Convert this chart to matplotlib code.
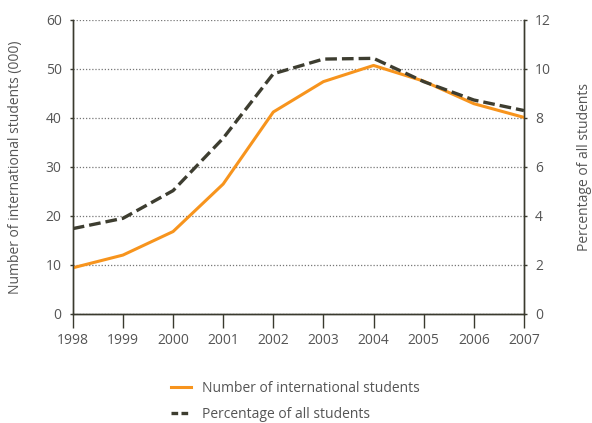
import matplotlib
matplotlib.use("Agg")
import matplotlib.pyplot as plt
from matplotlib.lines import Line2D

years = [1998, 1999, 2000, 2001, 2002, 2003, 2004, 2005, 2006, 2007]
students_000 = [9.4, 12.0, 16.8, 26.5, 41.2, 47.4, 50.7, 47.5, 42.9, 40.1]
pct_all = [3.48, 3.9, 5.03, 7.17, 9.8, 10.4, 10.43, 9.48, 8.73, 8.3]
left_ticks = [0, 10, 20, 30, 40, 50, 60]
right_ticks = [0, 2, 4, 6, 8, 10, 12]

plt.rcParams['font.family'] = ['Open Sans', 'DejaVu Sans']
txt = '#555555'
spine = '#3a3a2e'
orange = '#f7941d'
dark = '#3d3d30'

fig = plt.figure(figsize=(5.92, 4.23), dpi=100)
ax = fig.add_axes([0.123, 0.258, 0.762, 0.695])
ax2 = ax.twinx()

ax.plot(years, students_000, color=orange, lw=2.2, zorder=3)
ax2.plot(years, pct_all, color=dark, lw=2.4, ls=(0, (3.5, 1.5)), zorder=3)

ax.set_xlim(years[0], years[-1])
ax.set_ylim(0, 60)
ax2.set_ylim(0, 12)
ax.set_yticks(left_ticks)
ax2.set_yticks(right_ticks)
ax.set_xticks(years)

for a in (ax, ax2):
    for s in a.spines.values():
        s.set_color(spine)
        s.set_linewidth(1.0)
    a.spines['top'].set_visible(False)
ax.grid(axis='y', ls=(0, (1, 1.5)), color='#777777', lw=0.9)
ax.set_axisbelow(True)

ax.tick_params(axis='x', direction='out', length=10, width=1, color=spine,
               labelcolor=txt, labelsize=10, pad=4)
ax.tick_params(axis='y', direction='out', length=2, width=1, color=spine,
               labelcolor=txt, labelsize=10, pad=6)
ax2.tick_params(axis='y', direction='out', length=2, width=1, color=spine,
                labelcolor=txt, labelsize=10, pad=6)

ax.set_ylabel('Number of international students (000)', color=txt, fontsize=10, labelpad=16)
ax2.set_ylabel('Percentage of all students', color=txt, fontsize=10, labelpad=19)

handles = [Line2D([], [], color=orange, lw=2.2),
           Line2D([], [], color=dark, lw=2.4, ls=(0, (2, 1)))]
fig.legend(handles, ['Number of international students', 'Percentage of all students'],
           loc='upper left', bbox_to_anchor=(0.28, 0.112), frameon=False,
           fontsize=10, labelcolor=txt, handlelength=1.4, handletextpad=0.8,
           labelspacing=0.75, borderaxespad=0)

fig.savefig('out.png', dpi=100)
